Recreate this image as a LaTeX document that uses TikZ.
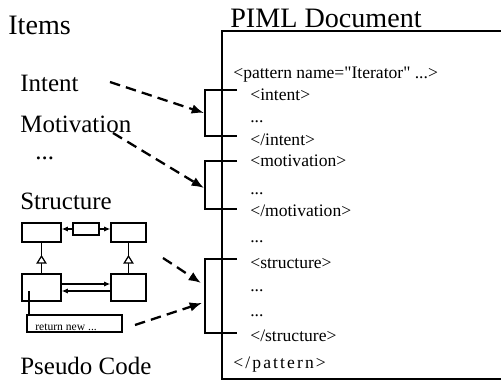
\documentclass[tikz,border=0pt]{standalone}
\usepackage{fontspec}
\setmainfont{Liberation Serif}[Ligatures=TeXOff]
\usetikzlibrary{arrows.meta}
\usetikzlibrary{decorations.markings}
\tikzset{>={Latex[length=7pt,width=5.5pt]}}
\tikzset{
  head/.style={font=\fontsize{16}{18}\selectfont, anchor=base west, inner sep=0pt},
  item/.style={font=\fontsize{14.2}{16}\selectfont, anchor=base west, inner sep=0pt},
  tag/.style={font=\fontsize{10}{12}\selectfont, anchor=base west, inner sep=0pt},
  cls/.style={draw, line width=.8pt, inner sep=0pt, minimum width=#1},
  cls/.default=.78cm,
  link/.style={line width=1.3pt, dash pattern=on 6pt off 3.5pt, ->},
  small/.style={line width=.7pt, -{Latex[length=3.5pt,width=3pt]}},
  inherit/.style={line width=.7pt, decoration={markings,
      mark=at position .6 with {\arrow{Triangle[length=5pt,width=6pt,fill=white]}}},
      postaction={decorate}},
  bracket/.style={line width=.8pt},
}

\begin{document}
\begin{tikzpicture}[x=0.02cm, y=-0.02cm]
    \useasboundingbox (0, 0) rectangle (501, 381);

    % left column
    \node[head] (items) at (8, 35) {Items};
    \node[item] (intent) at (20, 92) {Intent};
    \node[item] (motiv) at (20, 133) {Motivation};
    \node[item] (idots) at (35, 160) {...};
    \node[item] (struct) at (20, 210) {Structure};
    \node[item] (pseudo) at (20, 375) {Pseudo Code};

    % small class diagram
    \node[cls, minimum height=.38cm] (tl) at (41.5, 232.5) {};
    \node[cls=.70cm, minimum height=.38cm] (tr) at (128.5, 232.5) {};
    \node[cls=.52cm, minimum height=.24cm] (mid) at (86, 229) {};
    \node[cls, minimum height=.54cm] (bl) at (41.5, 287.5) {};
    \node[cls=.70cm, minimum height=.54cm] (br) at (128.5, 287.5) {};
    \node[cls=1.9cm, minimum height=.34cm] (ret) at (74.5, 323.5) {};
    \node[font=\fontsize{6.6}{7}\selectfont, anchor=base west, inner sep=0pt] (rettxt) at (35, 331) {return new ...};
    \coordinate (hook) at (29, 291);

    \draw[small] (mid.west) -- (mid.west -| tl.east);
    \draw[small] (mid.east) -- (mid.east -| tr.west);
    \draw[inherit] (bl.north) -- (tl.south);
    \draw[inherit] (br.north) -- (tr.south);
    \draw[small] ([yshift=.07cm]bl.east) -- ([yshift=.07cm]br.west);
    \draw[small] ([yshift=-.07cm]br.west) -- ([yshift=-.07cm]bl.east);
    \draw[line width=.7pt] (hook) -- (hook |- ret.north);

    % PIML document
    \node[head] (piml) at (230, 28) {PIML Document};
    \draw[line width=.9pt] (502, 31) -| (222, 379) -- (502, 379);

    \node[tag] (pat) at (233, 79) {<pattern name="Iterator" ...>};
    \node[tag] (t1) at (250, 101) {<intent>};
    \node[tag] (t2) at (250, 123) {...};
    \node[tag] (t3) at (250, 146) {</intent>};
    \node[tag] (t4) at (250, 167) {<motivation>};
    \node[tag] (t5) at (250, 195) {...};
    \node[tag] (t6) at (250, 217) {</motivation>};
    \node[tag] (t7) at (250, 243) {...};
    \node[tag] (t8) at (250, 269) {<structure>};
    \node[tag] (t9) at (250, 292) {...};
    \node[tag] (t10) at (250, 317) {...};
    \node[tag] (t11) at (250, 342) {</structure>};
    \node[tag] (endpat) at (233, 369) {\addfontfeature{LetterSpace=12}</pattern>};

    % brackets
    \draw[bracket] (237, 90) -| (205, 136) -- (237, 136);
    \draw[bracket] (237, 161) -| (205, 209) -- (237, 209);
    \draw[bracket] (237, 259) -| (205, 333) -- (237, 333);

    % dashed links
    \coordinate (a1) at (110, 82);
    \coordinate (b1) at (204, 113);
    \coordinate (a2) at (113, 133);
    \coordinate (b2) at (204, 188);
    \coordinate (a3) at (163, 258);
    \coordinate (b3) at (201, 283);
    \coordinate (a4) at (135, 325);
    \coordinate (b4) at (202, 303);
    \draw[link] (a1) -- (b1);
    \draw[link] (a2) -- (b2);
    \draw[link] (a3) -- (b3);
    \draw[link] (a4) -- (b4);
\end{tikzpicture}
\end{document}
